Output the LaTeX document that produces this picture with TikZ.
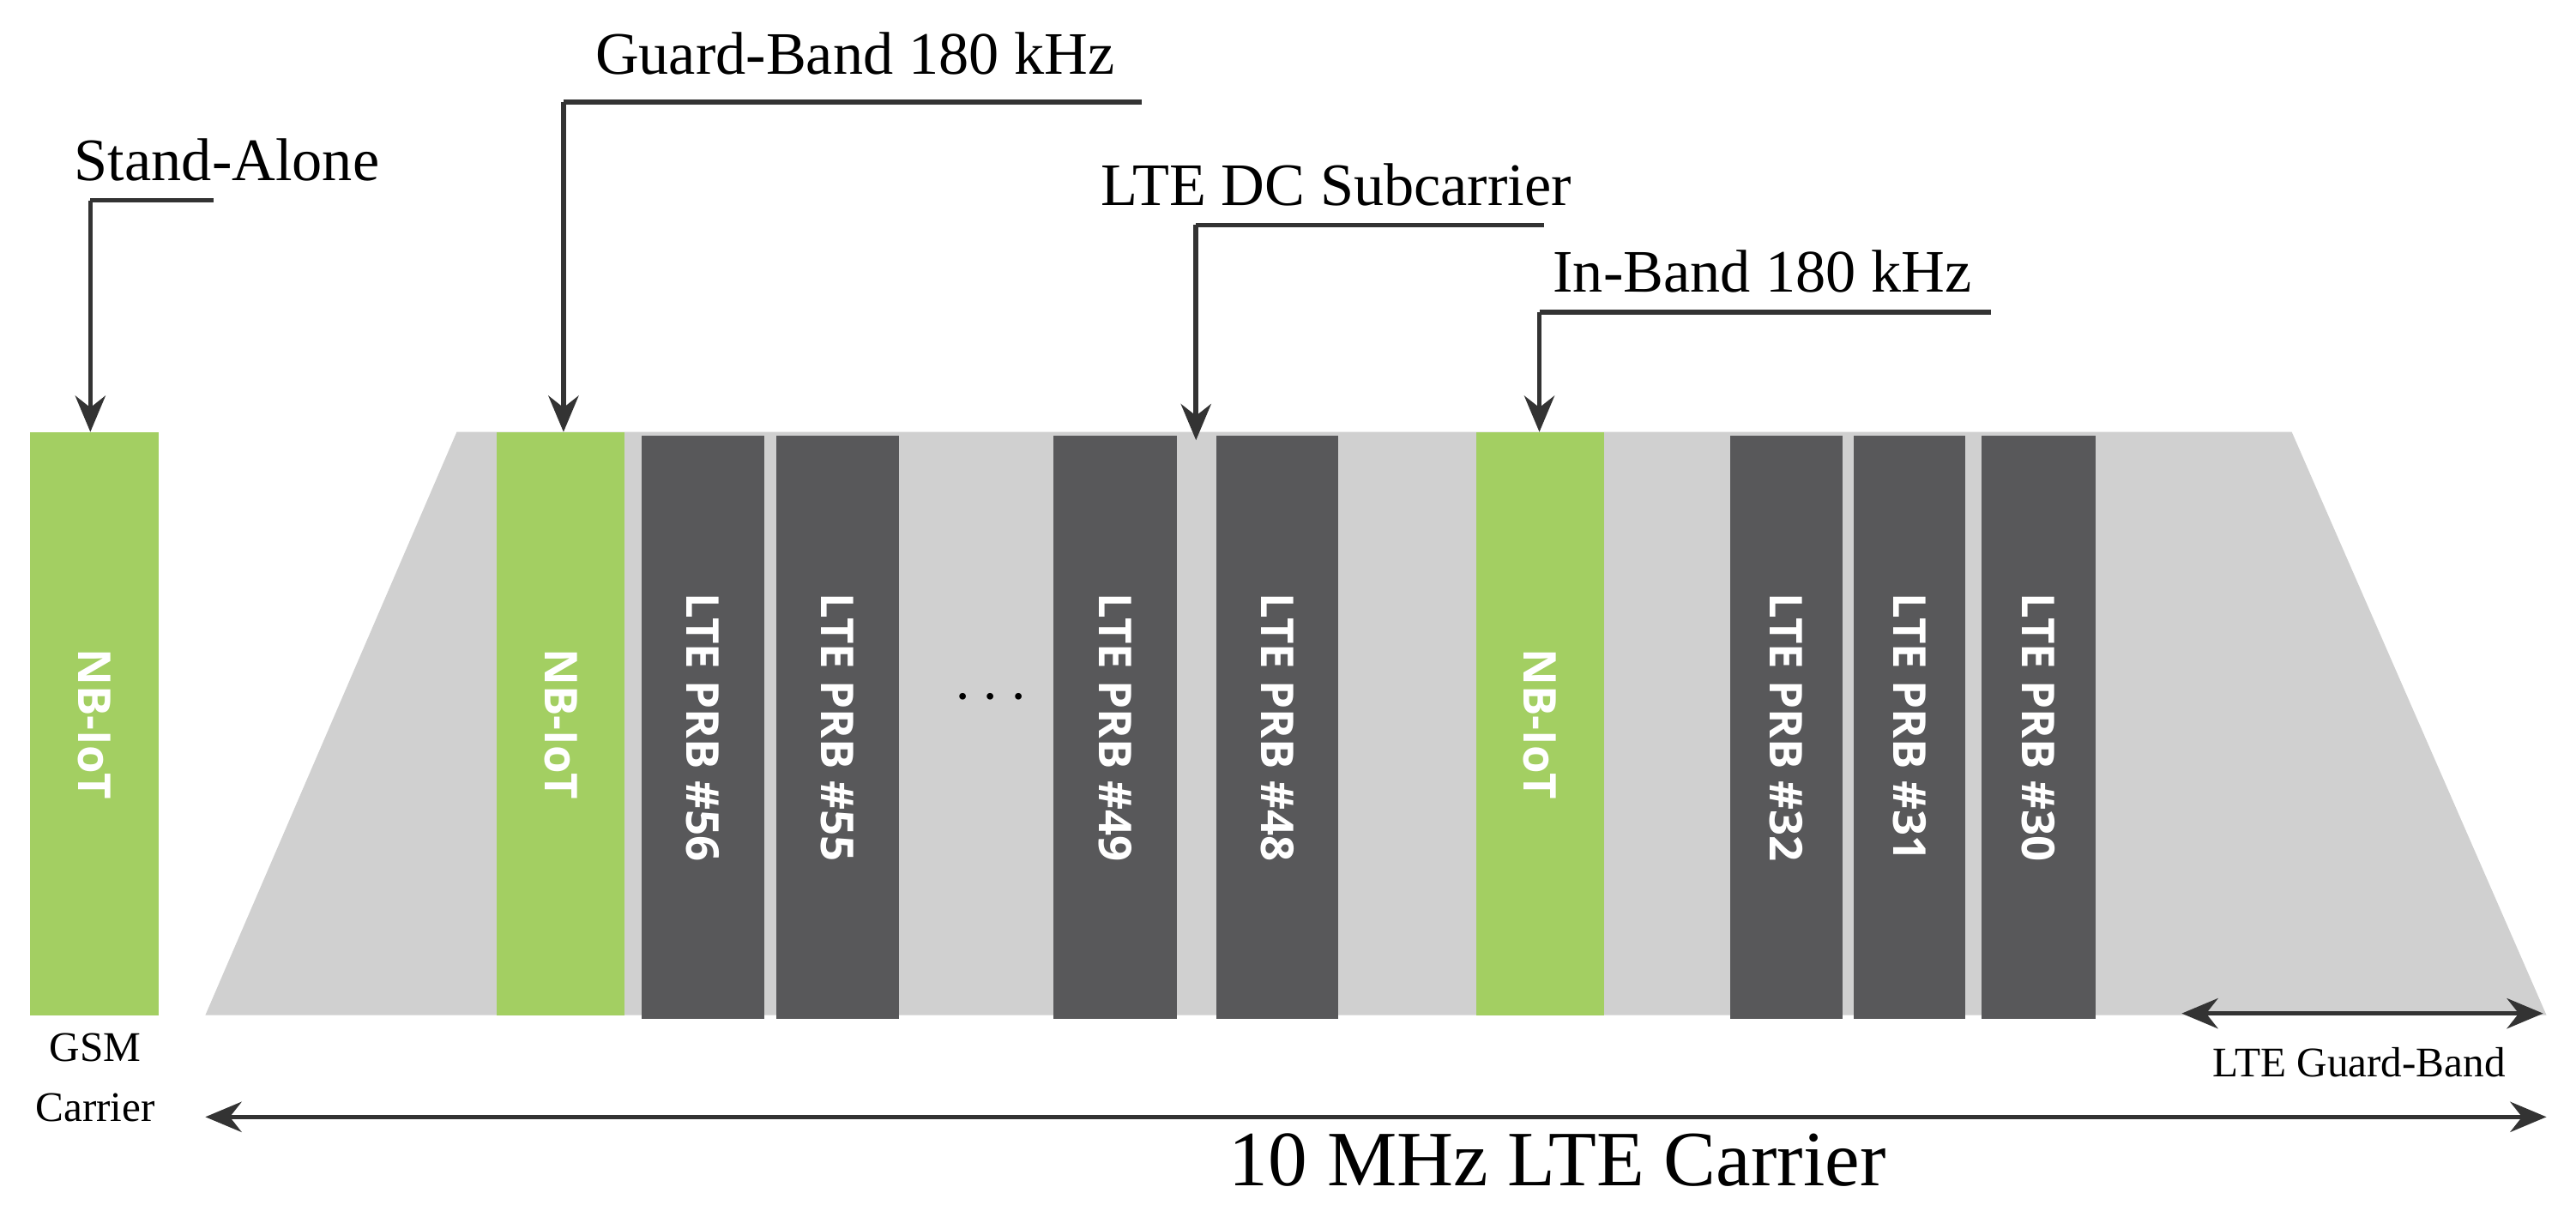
\documentclass[tikz,border=0pt]{standalone}
\usepackage{fontspec}
\setmainfont{Liberation Serif}
\newfontfamily\boxfont{Open Sans}
\usetikzlibrary{arrows.meta}
\definecolor{nbgreen}{HTML}{A3CF62}
\definecolor{prbgray}{HTML}{58585A}
\definecolor{bandgray}{HTML}{D0D0D0}
\definecolor{linegray}{HTML}{333333}
\begin{document}
\begin{tikzpicture}[x=0.01915cm,y=-0.01915cm,
  blk/.style={minimum width=#1*0.01915cm, minimum height=355*0.01915cm, inner sep=0, anchor=north west},
  nb/.style={blk=78, fill=nbgreen},
  prb/.style={blk=#1, fill=prbgray},
  lab/.style={text=white, font=\boxfont\bfseries\fontsize{15}{15}\selectfont, rotate=-90},
  call/.style={draw=linegray, line width=1.6pt},
  arr/.style={call, -{Stealth[length=12pt,width=10pt]}},
  darr/.style={call, {Stealth[length=12pt,width=10pt]}-{Stealth[length=12pt,width=10pt]}},
  ctext/.style={font=\fontsize{20}{20}\selectfont, anchor=base west, inner sep=0}]
\useasboundingbox (0,0) rectangle (1568,737);
\fill[bandgray] (278,263) -- (1395,263) -- (1550,618) -- (125,618) -- cycle;
\node[nb] (gsm) at (18,263) {}; \node[lab] at (gsm.center) {NB-IoT};
\node[nb] (gb) at (302,263) {}; \node[lab] at (gb.center) {NB-IoT};
\node[nb] (ib) at (898,263) {}; \node[lab] at (ib.center) {NB-IoT};
\node[prb=75] (p56) at (390,265) {}; \node[lab] at (p56.center) {LTE PRB \#56};
\node[prb=75] (p55) at (472,265) {}; \node[lab] at (p55.center) {LTE PRB \#55};
\node[prb=75] (p49) at (641,265) {}; \node[lab] at (p49.center) {LTE PRB \#49};
\node[prb=74] (p48) at (740,265) {}; \node[lab] at (p48.center) {LTE PRB \#48};
\node[prb=68] (p32) at (1053,265) {}; \node[lab] at (p32.center) {LTE PRB \#32};
\node[prb=68] (p31) at (1128,265) {}; \node[lab] at (p31.center) {LTE PRB \#31};
\node[prb=69] (p30) at (1206,265) {}; \node[lab] at (p30.center) {LTE PRB \#30};
\node (dots) at (603,425) {\fontsize{22}{22}\selectfont\textbf{$\cdots$}};
% callouts
\node[ctext] (sa) at (45,110) {Stand-Alone};
\coordinate (sac) at (55,122); \coordinate (sae) at (130,122);
\draw[call] (sac) -- (sae);
\draw[arr] (sac) -- (gsm.north -| sac);
\node[ctext] (gbt) at (362,45) {Guard-Band 180 kHz};
\coordinate (gbc) at (343,62); \coordinate (gbe) at (695,62);
\draw[call] (gbc) -- (gbe);
\draw[arr] (gbc) -- (gb.north -| gbc);
\node[ctext] (dct) at (670,125) {LTE DC Subcarrier};
\coordinate (dcc) at (728,137); \coordinate (dce) at (940,137);
\coordinate (dcend) at (728,268);
\draw[call] (dcc) -- (dce);
\draw[arr] (dcc) -- (dcend);
\node[ctext] (ibt) at (945,178) {In-Band 180 kHz};
\coordinate (ibc) at (937,190); \coordinate (ibe) at (1212,190);
\draw[call] (ibc) -- (ibe);
\draw[arr] (ibc) -- (ib.north -| ibc);
% bottom
\node[font=\fontsize{14}{16}\selectfont, align=center] (gsmt) at (58,656) {GSM\\[4pt]Carrier};
\coordinate (lgl) at (1328,617); \coordinate (lgr) at (1548,617);
\draw[darr] (lgl) -- (lgr);
\node[font=\fontsize{14}{14}\selectfont] (lgt) at (1436,647) {LTE Guard-Band};
\coordinate (cl) at (125,680); \coordinate (cr) at (1550,680);
\draw[darr] (cl) -- (cr);
\node[font=\fontsize{26}{26}\selectfont] (ct) at (948,706) {10 MHz LTE Carrier};
\end{tikzpicture}
\end{document}
